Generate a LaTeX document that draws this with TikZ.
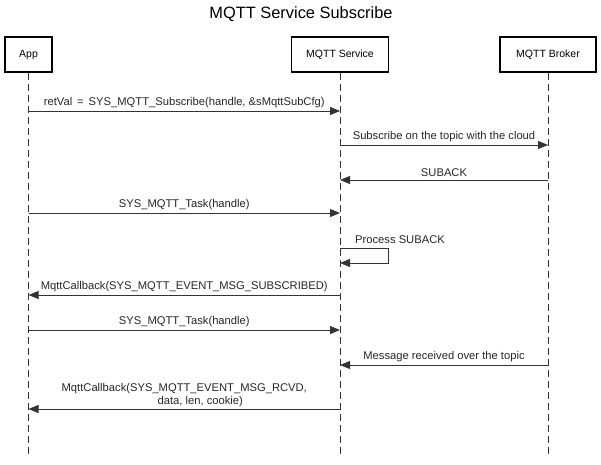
\documentclass[tikz,border=0pt]{standalone}
\usepackage{fontspec}
\setmainfont{Liberation Sans}
\usetikzlibrary{arrows.meta}
\begin{document}
\begin{tikzpicture}[x=1pt,y=-1pt,
  actor/.style={draw, line width=1.5pt, minimum height=35pt, inner sep=0pt, font=\fontsize{10.5}{12}\selectfont},
  life/.style={dash pattern=on 7pt off 4pt, line width=0.8pt, draw=black!80},
  msg/.style={-{Triangle[length=10pt,width=8pt]}, line width=0.8pt, draw=black!80},
  lbl/.style={font=\fontsize{11.2}{13}\selectfont, inner sep=0pt, text=black!85}]
\useasboundingbox (0,0) rectangle (601,464);
\node[font=\fontsize{16.4}{19}\selectfont] (title) at (301,14) {MQTT Service Subscribe};
% actors
\node[actor, minimum width=47pt] (app) at (28.5,54.5) {App};
\node[actor, minimum width=97pt] (svc) at (340,54.5) {MQTT Service};
\node[actor, minimum width=96pt] (brk) at (548,54.5) {MQTT Broker};
% lifeline ends
\coordinate (append) at (28.5,456);
\coordinate (svcend) at (340,456);
\coordinate (brkend) at (548,456);
\draw[life] (app.south) -- (append);
\draw[life] (svc.south) -- (svcend);
\draw[life] (brk.south) -- (brkend);
% message anchors
\coordinate (a1) at (28.5,111); \coordinate (s1) at (340,111);
\coordinate (s2) at (340,145);  \coordinate (b2) at (548,145);
\coordinate (b3) at (548,180);  \coordinate (s3) at (340,180);
\coordinate (a4) at (28.5,213); \coordinate (s4) at (340,213);
\coordinate (s5a) at (340,248); \coordinate (s5b) at (388,248);
\coordinate (s5c) at (388,263); \coordinate (s5d) at (340,263);
\coordinate (s6) at (340,295);  \coordinate (a6) at (28.5,295);
\coordinate (a7) at (28.5,330); \coordinate (s7) at (340,330);
\coordinate (b8) at (548,365);  \coordinate (s8) at (340,365);
\coordinate (s9) at (340,409);  \coordinate (a9) at (28.5,409);
% messages
\draw[msg] (a1) -- node[lbl, above=3pt] {retVal\,\ =\ \,SYS\_MQTT\_Subscribe(handle, \&sMqttSubCfg)} (s1);
\draw[msg] (s2) -- node[lbl, above=3pt] {Subscribe on the topic with the cloud} (b2);
\draw[msg] (b3) -- node[lbl, above=3pt] {SUBACK} (s3);
\draw[msg] (a4) -- node[lbl, above=3pt] {SYS\_MQTT\_Task(handle)} (s4);
\draw[msg] (s5a) -- (s5b) -- (s5c) -- (s5d);
\node[lbl, anchor=south west] (p5) at (355,244) {Process SUBACK};
\draw[msg] (s6) -- node[lbl, above=3pt] {MqttCallback(SYS\_MQTT\_EVENT\_MSG\_SUBSCRIBED)} (a6);
\draw[msg] (a7) -- node[lbl, above=3pt] {SYS\_MQTT\_Task(handle)} (s7);
\draw[msg] (b8) -- node[lbl, above=3pt] {Message received over the topic} (s8);
\draw[msg] (s9) -- node[lbl, above=2pt, align=left, font=\fontsize{11.2}{12.5}\selectfont] {MqttCallback(SYS\_MQTT\_EVENT\_MSG\_RCVD,\\\hspace*{96pt}data, len, cookie)} (a9);
\end{tikzpicture}
\end{document}
